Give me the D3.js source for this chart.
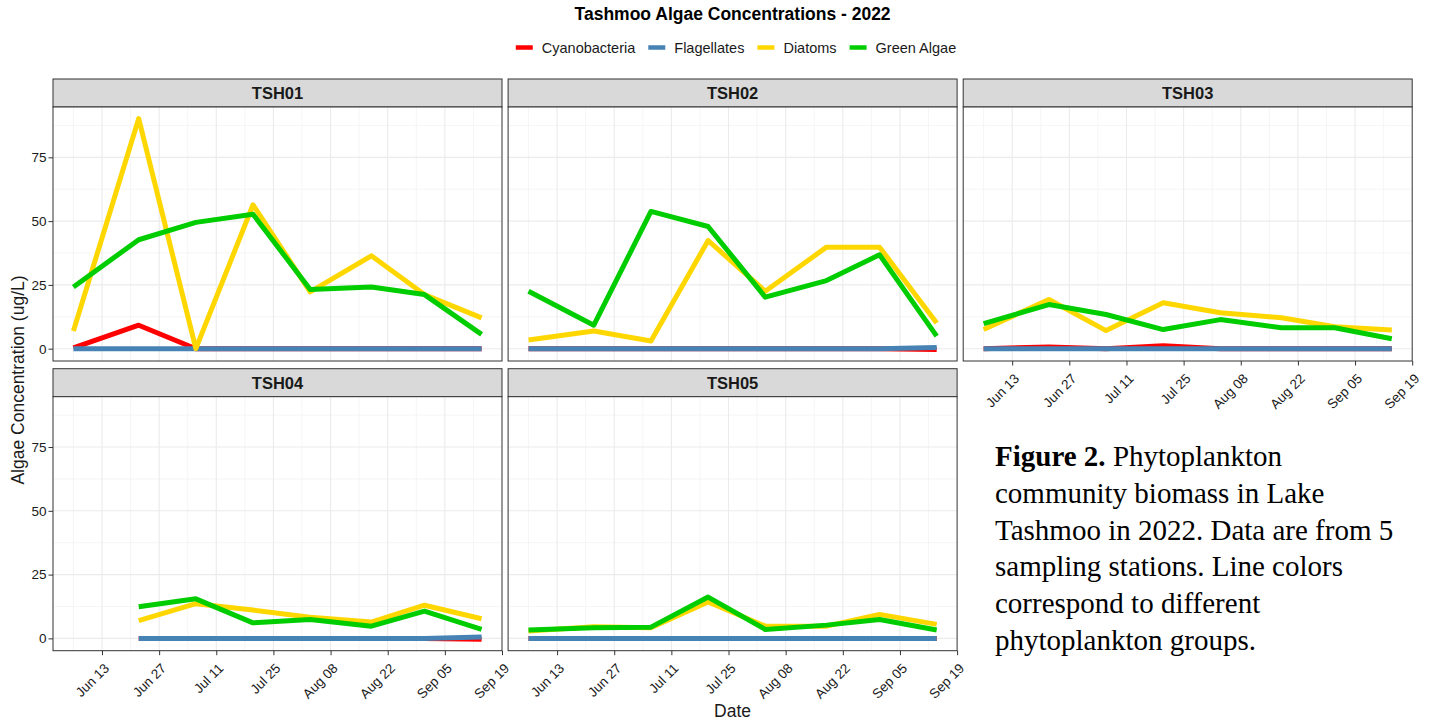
<!DOCTYPE html>
<html>
<head>
<meta charset="UTF-8">
<title>Tashmoo Algae Concentrations - 2022</title>
<script src="https://cdn.jsdelivr.net/npm/d3@7"></script>
<style>
  body { margin: 0; background: #fff; }
  svg text { font-family: Arial, "Liberation Sans", sans-serif; }
</style>
</head>
<body>
<svg id="chart" width="1434" height="723"></svg>
<script>
// sampling dates, shared by all stations
const sampleDates = ["2022-06-06", "2022-06-22", "2022-07-06", "2022-07-20",
                     "2022-08-03", "2022-08-18", "2022-08-31", "2022-09-14"];
const stations = ["TSH01", "TSH02", "TSH03", "TSH04", "TSH05"];
const groups = ["Cyanobacteria", "Flagellates", "Diatoms", "Green Algae"];
const groupColors = ["#FF0000", "#4682B4", "#FFD700", "#00CD00"];

// one row per station (TSH01..TSH05), null = not sampled
const cyanobacteria = [
  [0.3, 9.2, 0, 0, 0, 0, 0, 0],
  [0, 0, 0, 0, 0, 0, 0, -0.3],
  [0, 0.7, 0, 1.2, 0, 0, 0, 0],
  [null, 0, 0, 0, 0, 0, 0, -0.3],
  [0, 0, 0, 0, 0, 0, 0, 0]
];
const flagellates = [
  [0, 0, 0, 0, 0, 0, 0, 0],
  [0, 0, 0, 0, 0, 0, 0, 0.5],
  [0, 0, 0, 0, 0, 0, 0, 0],
  [null, 0, 0, 0, 0, 0, 0, 0.5],
  [0, 0, 0, 0, 0, 0, 0, 0]
];
const diatoms = [
  [6.9, 90.2, 0, 56.4, 22.3, 36.4, 21.2, 12.1],
  [3.4, 6.9, 3.0, 42.4, 22.5, 39.8, 39.8, 10.1],
  [7.5, 19.3, 7.1, 18.0, 14.1, 12.1, 8.6, 7.3],
  [null, 7.0, 13.6, 11.1, 8.3, 6.4, 13.0, 7.7],
  [2.9, 4.6, 4.2, 14.3, 4.8, 4.8, 9.4, 5.5]
];
const greenAlgae = [
  [24.2, 42.7, 49.5, 52.7, 23.2, 24.2, 21.2, 5.6],
  [22.5, 9.2, 53.8, 47.9, 20.2, 26.7, 36.8, 4.9],
  [9.8, 17.3, 13.4, 7.5, 11.4, 8.2, 8.2, 3.9],
  [null, 12.4, 15.5, 6.1, 7.4, 4.8, 10.7, 3.5],
  [3.3, 4.2, 4.4, 16.2, 3.5, 5.2, 7.4, 3.3]
];
const seriesByGroup = [cyanobacteria, flagellates, diatoms, greenAlgae];

const xTicks = ["2022-06-13", "2022-06-27", "2022-07-11", "2022-07-25",
                "2022-08-08", "2022-08-22", "2022-09-05", "2022-09-19"];
const yTicks = [0, 25, 50, 75];

const captionLines = [
  "community biomass in Lake",
  "Tashmoo in 2022. Data are from 5",
  "sampling stations. Line colors",
  "correspond to different",
  "phytoplankton groups."
];

// layout
const left = 53, colStep = 455.1, panelW = 449;
const stripH = 28, plotH = 254;
const rowTop = [79, 368.7];

const parse = d3.timeParse("%Y-%m-%d");
const dates = sampleDates.map(parse);
const tickDates = xTicks.map(parse);

const svg = d3.select("#chart");

// scales with ggplot-style 5% expansion
const dExt = d3.extent(dates);
const dPad = (dExt[1] - dExt[0]) * 0.05;
const x = d3.scaleTime()
  .domain([new Date(+dExt[0] - dPad), new Date(+dExt[1] + dPad)])
  .range([0, panelW]);

const allVals = seriesByGroup.flat(2).filter(v => v != null);
const vMin = d3.min(allVals), vMax = d3.max(allVals);
const vPad = (vMax - vMin) * 0.05;
const y = d3.scaleLinear().domain([vMin - vPad, vMax + vPad]).range([plotH, 0]);

// minor breaks halfway between majors
const minorX = [];
for (let i = -1; i < tickDates.length; i++) {
  const a = i < 0 ? +tickDates[0] - 14 * 864e5 : +tickDates[i];
  minorX.push(new Date(a + 7 * 864e5));
}
const minorY = [-12.5, 12.5, 37.5, 62.5, 87.5];

const line = d3.line()
  .defined(d => d.v != null)
  .x(d => x(d.date))
  .y(d => y(d.v));

const fmt = d3.timeFormat("%b %d");
const tickFont = "13.5px";

stations.forEach((name, si) => {
  const col = si % 3, row = Math.floor(si / 3);
  const px = left + col * colStep;
  const py = rowTop[row];

  const g = svg.append("g").attr("transform", `translate(${px},${py})`);

  // strip
  g.append("rect")
    .attr("width", panelW).attr("height", stripH)
    .attr("fill", "#D9D9D9").attr("stroke", "#333").attr("stroke-width", 1);
  g.append("text")
    .attr("x", panelW / 2).attr("y", stripH / 2).attr("dy", "0.36em")
    .attr("text-anchor", "middle")
    .style("font-size", "16.5px").style("font-weight", "bold").attr("fill", "#1A1A1A")
    .text(name);

  const p = g.append("g").attr("transform", `translate(0,${stripH})`);
  p.append("rect").attr("width", panelW).attr("height", plotH).attr("fill", "#fff");

  // grid
  p.selectAll(".mx").data(minorX.filter(d => x(d) > 0 && x(d) < panelW)).join("line")
    .attr("x1", d => x(d)).attr("x2", d => x(d)).attr("y1", 0).attr("y2", plotH)
    .attr("stroke", "#F0F0F0").attr("stroke-width", 0.7);
  p.selectAll(".my").data(minorY.filter(v => y(v) > 0 && y(v) < plotH)).join("line")
    .attr("y1", d => y(d)).attr("y2", d => y(d)).attr("x1", 0).attr("x2", panelW)
    .attr("stroke", "#F0F0F0").attr("stroke-width", 0.7);
  p.selectAll(".Mx").data(tickDates.filter(d => x(d) > 0 && x(d) < panelW)).join("line")
    .attr("x1", d => x(d)).attr("x2", d => x(d)).attr("y1", 0).attr("y2", plotH)
    .attr("stroke", "#EBEBEB").attr("stroke-width", 1.1);
  p.selectAll(".My").data(yTicks).join("line")
    .attr("y1", d => y(d)).attr("y2", d => y(d)).attr("x1", 0).attr("x2", panelW)
    .attr("stroke", "#EBEBEB").attr("stroke-width", 1.1);

  // series lines
  seriesByGroup.forEach((series, gi) => {
    const pts = dates.map((d, k) => ({ date: d, v: series[si][k] }));
    p.append("path")
      .datum(pts)
      .attr("d", line)
      .attr("fill", "none")
      .attr("stroke", groupColors[gi])
      .attr("stroke-width", 5)
      .attr("stroke-linejoin", "round")
      .attr("stroke-linecap", "butt");
  });

  p.append("rect").attr("width", panelW).attr("height", plotH)
    .attr("fill", "none").attr("stroke", "#333").attr("stroke-width", 1);

  // y axis on first column
  if (col === 0) {
    const ya = p.append("g").call(d3.axisLeft(y).tickValues(yTicks).tickSize(4.5).tickPadding(2));
    ya.select(".domain").remove();
    ya.selectAll(".tick line").attr("stroke", "#333");
    ya.selectAll(".tick text").attr("fill", "#1A1A1A").style("font-size", tickFont)
      .style("font-family", "Arial, 'Liberation Sans', sans-serif");
  }

  // x axis where nothing sits below
  if (row === 1 || col === 2) {
    const xa = p.append("g").attr("transform", `translate(0,${plotH})`)
      .call(d3.axisBottom(x).tickValues(tickDates).tickFormat(fmt).tickSize(4.5).tickSizeOuter(0));
    xa.select(".domain").remove();
    xa.selectAll(".tick line").attr("stroke", "#333");
    xa.selectAll(".tick text")
      .attr("y", null).attr("dy", null)
      .attr("transform", "translate(7.5,18.5) rotate(-45)")
      .style("text-anchor", "end")
      .attr("fill", "#1A1A1A").style("font-size", tickFont)
      .style("font-family", "Arial, 'Liberation Sans', sans-serif");
  }
});

// title
const plotCenter = left + (2 * colStep + panelW) / 2;
svg.append("text")
  .attr("x", plotCenter).attr("y", 20)
  .attr("text-anchor", "middle")
  .style("font-size", "17.5px").style("font-weight", "bold")
  .text("Tashmoo Algae Concentrations - 2022");

// legend
const legend = svg.append("g");
const keyW = 17, keyGap = 9, itemGap = 13;
let cx = 0;
groups.forEach((name, i) => {
  const it = legend.append("g").attr("transform", `translate(${cx},0)`);
  it.append("line").attr("x1", 0).attr("x2", keyW).attr("y1", 0).attr("y2", 0)
    .attr("stroke", groupColors[i]).attr("stroke-width", 4.5);
  const t = it.append("text").attr("x", keyW + keyGap).attr("y", 0).attr("dy", "0.36em")
    .style("font-size", "14.5px").attr("fill", "#1A1A1A").text(name);
  cx += keyW + keyGap + t.node().getComputedTextLength() + itemGap;
});
const legW = cx - itemGap;
legend.attr("transform", `translate(${736 - legW / 2},47.5)`);

// axis titles
svg.append("text")
  .attr("transform", `translate(24,380) rotate(-90)`)
  .attr("text-anchor", "middle")
  .style("font-size", "17.5px").attr("fill", "#1A1A1A")
  .text("Algae Concentration (ug/L)");
svg.append("text")
  .attr("x", plotCenter).attr("y", 717)
  .attr("text-anchor", "middle")
  .style("font-size", "17.5px").attr("fill", "#1A1A1A")
  .text("Date");

// figure caption
const cap = svg.append("g").attr("transform", "translate(995,466)");
const serif = "'Times New Roman', 'Liberation Serif', serif";
const first = cap.append("text").style("font-family", serif).style("font-size", "29px");
first.append("tspan").style("font-weight", "bold").text("Figure 2.");
first.append("tspan").text(" Phytoplankton");
captionLines.forEach((s, i) => {
  cap.append("text").attr("y", (i + 1) * 36.8)
    .style("font-family", serif).style("font-size", "29px").text(s);
});
</script>
</body>
</html>
